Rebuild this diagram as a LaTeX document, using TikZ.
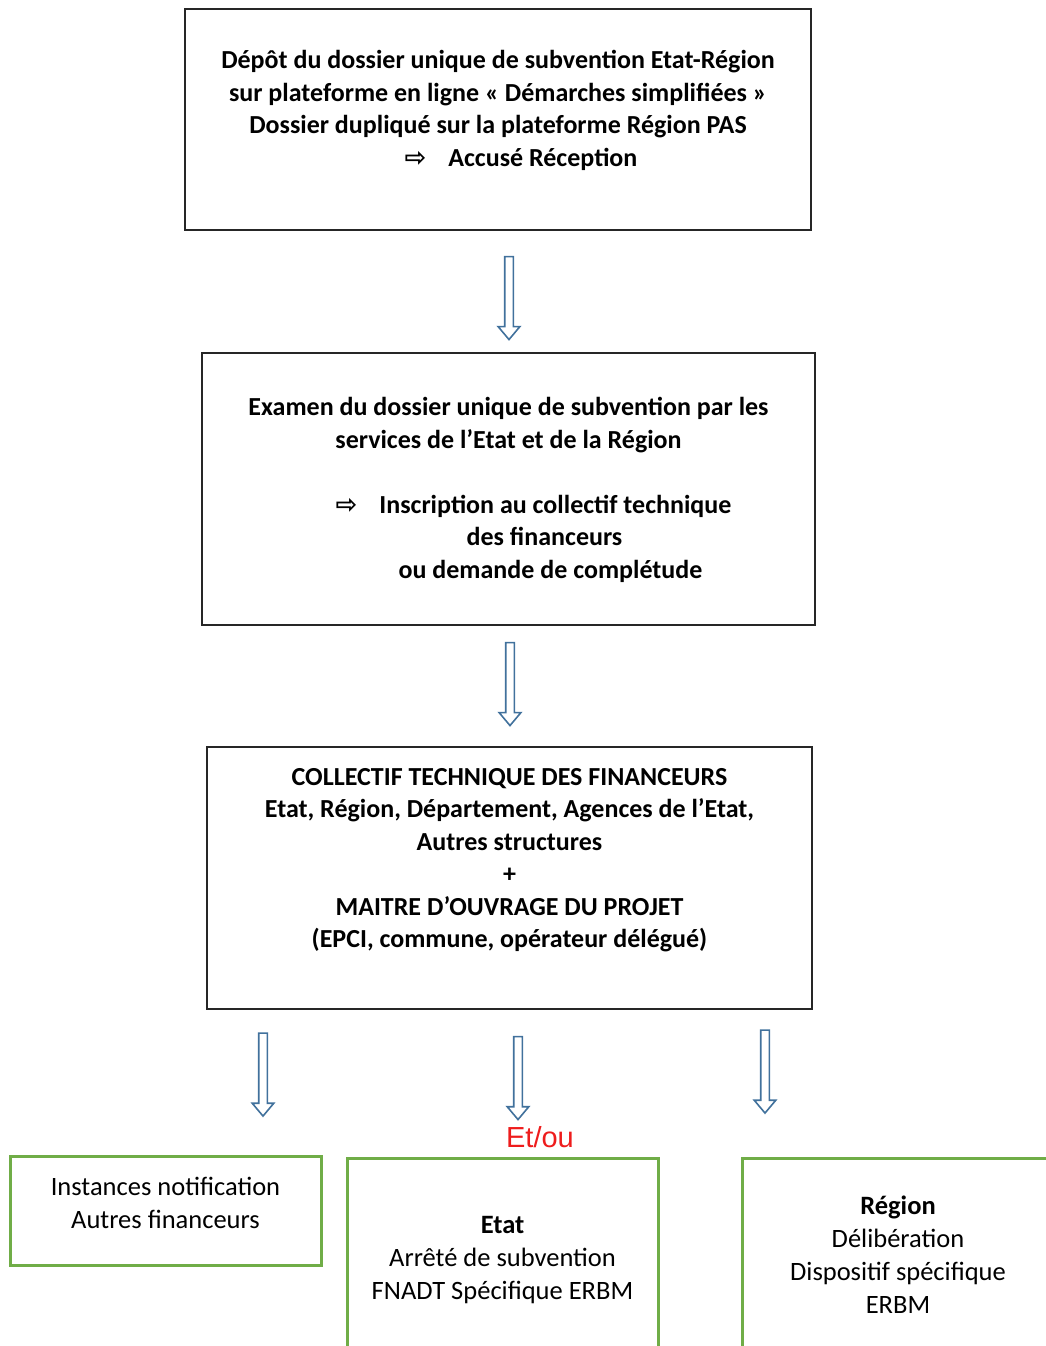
\documentclass[tikz,border=0pt]{standalone}
\usepackage{fontspec}
\setmainfont{Carlito}
\newfontfamily\symbfont{DejaVu Sans}
\newfontfamily\arialfont{Liberation Sans}
\usetikzlibrary{shapes.arrows,positioning,calc}
\definecolor{BordNoir}{HTML}{262626}
\definecolor{FlecheBleue}{HTML}{41719C}
\definecolor{VertCadre}{HTML}{70AD47}
\definecolor{RougeEtou}{HTML}{EE1C1C}
\newcommand{\flechedroite}{{\symbfont\bfseries ⇨}}

\begin{document}
\begin{tikzpicture}[x=1pt,y=-1pt,
    boite/.style={draw=BordNoir,line width=2pt,inner sep=0pt},
    boiteverte/.style={draw=VertCadre,line width=3pt,inner sep=0pt},
    textehaut/.style={align=center,font=\fontsize{26}{32.5}\selectfont\bfseries},
    textebas/.style={align=center,font=\fontsize{26.5}{33}\selectfont},
    flechebleue/.style={single arrow,shape border rotate=270,draw=FlecheBleue,fill=white,
                        line width=1.6pt,inner sep=3.5pt,single arrow head extend=6.5pt,
                        single arrow tip angle=80,minimum height=83pt}
  ]
  \clip (0,0) rectangle (1046,1346);

  % blocs principaux
  \node[boite,minimum width=626pt,minimum height=221pt] (depot) at (498,119.5) {};
  \node[textehaut] (depot-txt) at ([yshift=9pt]depot.center)
    {Dépôt du dossier unique de subvention Etat-Région\\
     sur plateforme en ligne « Démarches simplifiées »\\
     Dossier dupliqué sur la plateforme Région PAS\\
     \hspace*{46pt}\flechedroite\hspace{22pt}Accusé Réception};

  \node[boite,minimum width=613pt,minimum height=272pt] (examen) at (508.5,489) {};
  \node[textehaut] (examen-txt) at ([yshift=-1pt]examen.center)
    {Examen du dossier unique de subvention par les\\
     services de l’Etat et de la Région\\[32.5pt]
     \hspace*{50pt}\flechedroite\hspace{22pt}Inscription au collectif technique\\
     \hspace*{72pt}des financeurs\\
     \hspace*{84pt}ou demande de complétude};

  \node[boite,minimum width=605pt,minimum height=262pt] (collectif) at (509.5,878) {};
  \node[textehaut] (collectif-txt) at ([yshift=18pt]collectif.center)
    {COLLECTIF TECHNIQUE DES FINANCEURS\\
     Etat, Région, Département, Agences de l’Etat,\\
     Autres structures\\
     +\\
     MAITRE D’OUVRAGE DU PROJET\\
     (EPCI, commune, opérateur délégué)};

  % fleches creuses
  \node[flechebleue] (f1) at (509,295.5) {};
  \node[flechebleue] (f2) at (510,681.5) {};
  \node[flechebleue] (f3) at (263,1072) {};
  \node[flechebleue] (f4) at (518,1075.5) {};
  \node[flechebleue] (f5) at (765,1069) {};

  \node[font=\arialfont\fontsize{29}{32}\selectfont,text=RougeEtou] (etou) at (540,1137) {Et/ou};

  % decisions
  \node[boiteverte,minimum width=311pt,minimum height=109pt] (instances) at (165.5,1210.5) {};
  \node[textebas] (instances-txt) at ([yshift=8pt]instances.center)
    {Instances notification\\Autres financeurs};

  \node[boiteverte,minimum width=311pt,minimum height=205pt,textebas] (etat) at (502.5,1260.5)
    {\textbf{Etat}\\Arrêté de subvention\\FNADT Spécifique ERBM};

  \node[boiteverte,minimum width=312pt,minimum height=194pt,textebas] (region) at (898,1255)
    {\textbf{Région}\\Délibération\\Dispositif spécifique\\ERBM};
\end{tikzpicture}
\end{document}
